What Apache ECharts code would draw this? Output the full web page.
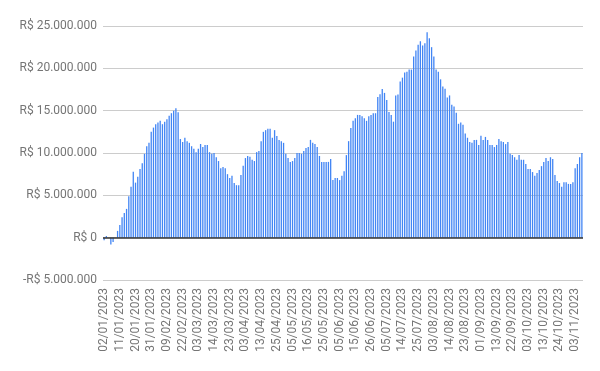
<!DOCTYPE html>
<html>
<head>
<meta charset="utf-8">
<script src="https://cdn.jsdelivr.net/npm/echarts@6/dist/echarts.min.js"></script>
<style>html,body{margin:0;padding:0;background:#fff;}#c{width:600px;height:371px;}</style>
</head>
<body>
<div id="c"></div>
<script>
const categories = [
"02/01/2023","03/01/2023","04/01/2023","05/01/2023","06/01/2023","09/01/2023","10/01/2023","11/01/2023","12/01/2023","13/01/2023",
"16/01/2023","17/01/2023","18/01/2023","19/01/2023","20/01/2023","23/01/2023","24/01/2023","25/01/2023","26/01/2023","27/01/2023",
"30/01/2023","31/01/2023",
"01/02/2023","02/02/2023","03/02/2023","06/02/2023","07/02/2023","08/02/2023","09/02/2023","10/02/2023","13/02/2023","14/02/2023",
"15/02/2023","16/02/2023","17/02/2023","22/02/2023","23/02/2023","24/02/2023","27/02/2023","28/02/2023",
"01/03/2023","02/03/2023","03/03/2023","06/03/2023","07/03/2023","08/03/2023","09/03/2023","10/03/2023","13/03/2023","14/03/2023",
"15/03/2023","16/03/2023","17/03/2023","20/03/2023","21/03/2023","22/03/2023","23/03/2023","24/03/2023","27/03/2023","28/03/2023",
"29/03/2023","30/03/2023","31/03/2023",
"03/04/2023","04/04/2023","05/04/2023","06/04/2023","10/04/2023","11/04/2023","12/04/2023","13/04/2023","14/04/2023","17/04/2023",
"18/04/2023","19/04/2023","20/04/2023","24/04/2023","25/04/2023","26/04/2023","27/04/2023","28/04/2023",
"02/05/2023","03/05/2023","04/05/2023","05/05/2023","08/05/2023","09/05/2023","10/05/2023","11/05/2023","12/05/2023","15/05/2023",
"16/05/2023","17/05/2023","18/05/2023","19/05/2023","22/05/2023","23/05/2023","24/05/2023","25/05/2023","26/05/2023","29/05/2023",
"30/05/2023","31/05/2023",
"01/06/2023","02/06/2023","05/06/2023","06/06/2023","07/06/2023","09/06/2023","12/06/2023","13/06/2023","14/06/2023","15/06/2023",
"16/06/2023","19/06/2023","20/06/2023","21/06/2023","22/06/2023","23/06/2023","26/06/2023","27/06/2023","28/06/2023","29/06/2023",
"30/06/2023",
"03/07/2023","04/07/2023","05/07/2023","06/07/2023","07/07/2023","10/07/2023","11/07/2023","12/07/2023","13/07/2023","14/07/2023",
"17/07/2023","18/07/2023","19/07/2023","20/07/2023","21/07/2023","24/07/2023","25/07/2023","26/07/2023","27/07/2023","28/07/2023",
"31/07/2023",
"01/08/2023","02/08/2023","03/08/2023","04/08/2023","07/08/2023","08/08/2023","09/08/2023","10/08/2023","11/08/2023","14/08/2023",
"15/08/2023","16/08/2023","17/08/2023","18/08/2023","21/08/2023","22/08/2023","23/08/2023","24/08/2023","25/08/2023","28/08/2023",
"29/08/2023","30/08/2023","31/08/2023",
"01/09/2023","04/09/2023","05/09/2023","06/09/2023","08/09/2023","11/09/2023","12/09/2023","13/09/2023","14/09/2023","15/09/2023",
"18/09/2023","19/09/2023","20/09/2023","21/09/2023","22/09/2023","25/09/2023","26/09/2023","27/09/2023","28/09/2023","29/09/2023",
"02/10/2023","03/10/2023","04/10/2023","05/10/2023","06/10/2023","09/10/2023","10/10/2023","11/10/2023","13/10/2023","16/10/2023",
"17/10/2023","18/10/2023","19/10/2023","20/10/2023","23/10/2023","24/10/2023","25/10/2023","26/10/2023","27/10/2023","30/10/2023",
"31/10/2023",
"01/11/2023","03/11/2023","06/11/2023","07/11/2023","08/11/2023"
];

// values in millions of R$
const valuesMillions = [
-0.3, 0.2, 0.0, -0.8, -0.5, 0.0, 0.8, 1.5, 2.4, 2.9,
3.4, 4.9, 6.0, 7.8, 6.5, 7.2, 8.1, 8.8, 9.9, 10.8,
11.2, 12.5, 13.0, 13.4, 13.6, 13.8, 13.4, 13.7, 14.0, 14.4,
14.7, 15.0, 15.3, 14.8, 11.65, 11.3, 11.8, 11.4, 11.2, 10.8,
10.5, 10.1, 10.5, 11.06, 10.7, 10.95, 10.95, 10.1, 9.9, 10.0,
9.5, 9.05, 8.2, 8.35, 8.2, 7.5, 7.05, 7.3, 6.45, 6.2,
6.2, 7.4, 8.5, 9.4, 9.65, 9.55, 9.2, 9.05, 10.1, 10.25,
11.4, 12.5, 12.7, 12.85, 12.85, 11.8, 12.7, 12.0, 11.55, 11.4,
11.2, 9.9, 9.4, 8.95, 9.05, 9.4, 10.0, 10.0, 9.9, 10.25,
10.6, 10.7, 11.55, 11.2, 11.05, 10.7, 9.65, 8.95, 8.95, 8.95,
8.95, 9.3, 6.8, 7.05, 7.05, 6.8, 7.3, 7.85, 9.75, 11.4,
12.95, 13.8, 14.1, 14.5, 14.5, 14.35, 14.1, 13.8, 14.35, 14.5,
14.7, 14.7, 16.6, 16.95, 17.55, 17.1, 16.25, 14.85, 14.5, 13.7,
16.8, 16.9, 18.45, 18.9, 19.5, 19.6, 19.85, 19.85, 21.4, 22.1,
22.8, 23.2, 22.7, 22.95, 24.25, 23.55, 22.5, 21.4, 19.85, 19.6,
18.7, 17.85, 17.6, 16.55, 16.8, 15.7, 15.5, 14.75, 13.45, 13.6,
13.35, 12.3, 11.8, 11.3, 11.2, 11.55, 11.55, 10.95, 12.05, 11.55,
11.9, 11.55, 10.95, 10.95, 10.7, 10.95, 11.65, 11.4, 11.3, 11.05,
11.3, 9.9, 9.75, 9.5, 9.2, 9.75, 9.2, 9.2, 8.7, 8.1,
8.1, 7.75, 7.3, 7.65, 8.0, 8.45, 8.95, 9.4, 9.05, 9.5,
9.3, 7.4, 6.7, 6.45, 6.0, 6.55, 6.55, 6.35, 6.35, 6.55,
8.2, 8.7, 9.5, 10.0
];

const yMin = -5, yMax = 25, yStep = 5;

function brl(v) {
  const n = Math.round(Math.abs(v) * 1e6);
  const s = String(n).replace(/\B(?=(\d{3})+(?!\d))/g, '.');
  return (v < 0 ? '-R$ ' : 'R$ ') + s;
}

const chart = echarts.init(document.getElementById('c'), null, {renderer: 'canvas'});
chart.setOption({
  animation: false,
  backgroundColor: '#ffffff',
  grid: {left: 103, right: 17, top: 26, bottom: 91, containLabel: false},
  xAxis: {
    type: 'category',
    data: categories,
    boundaryGap: true,
    axisLine: {show: false, onZero: false},
    axisTick: {show: false},
    axisLabel: {
      interval: 6, rotate: 90, margin: 8,
      color: '#757575', fontFamily: 'Roboto', fontSize: 12
    },
    splitLine: {show: false}
  },
  yAxis: {
    type: 'value',
    min: yMin, max: yMax, interval: yStep,
    axisLine: {show: false},
    axisTick: {show: false},
    axisLabel: {
      formatter: brl, margin: 6,
      color: '#757575', fontFamily: 'Roboto', fontSize: 12
    },
    splitLine: {lineStyle: {color: '#cccccc', width: 1}}
  },
  series: [{
    type: 'bar',
    data: valuesMillions,
    barCategoryGap: '42%',
    itemStyle: {color: '#4285F4'},
    markLine: {
      silent: true,
      symbol: 'none',
      label: {show: false},
      lineStyle: {color: '#333333', width: 1.5, type: 'solid'},
      data: [{yAxis: 0}]
    }
  }]
});
</script>
</body>
</html>
